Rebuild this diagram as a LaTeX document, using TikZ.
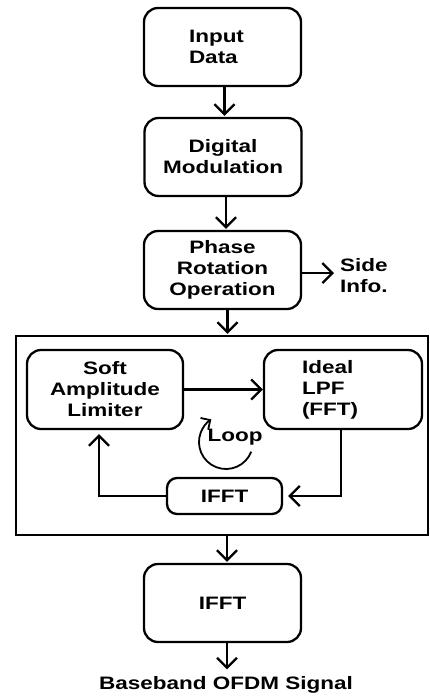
\documentclass[tikz,border=0pt]{standalone}
\usepackage{fontspec}
\setmainfont[FakeStretch=1.25]{Liberation Sans}
\usetikzlibrary{arrows.meta}
\begin{document}
\begin{tikzpicture}[x=1pt,y=1pt,
  every node/.style={font=\fontsize{18}{21}\selectfont\bfseries},
  box/.style={draw, line width=2.3pt, rounded corners=14pt, minimum width=157pt,
              minimum height=78pt, inner sep=0pt, align=center},
  smallbox/.style={draw, line width=2.3pt, rounded corners=10pt, minimum width=115pt,
              minimum height=36pt, inner sep=0pt},
  arr/.style={line width=2.3pt, -{Straight Barb[length=10pt,width=20pt]}},
  loopline/.style={line width=1.8pt, -{Straight Barb[length=7pt,width=14pt]}}]
\fill[white] (0,0) rectangle (429,-697);
\useasboundingbox (0,0) rectangle (429,-697);

% main chain
\node[box, inner xsep=45pt, text width=67pt, align=left] (input) at (222.5,-47) {Input\\Data\\[-6pt]};
\node[box] (digital) at (223,-157) {Digital\\Modulation};
\node[box] (phase) at (222.5,-270) {Phase\\Rotation\\Operation};
\node[anchor=west, align=left, inner xsep=6pt] (side) at (334,-276) {Side\\Info.};

% clipping/filtering loop
\node[draw, line width=2.3pt, minimum width=412pt, minimum height=199pt, inner sep=0pt] (frame) at (222,-435.5) {};
\node[box, minimum width=156pt, minimum height=79pt] (soft) at (105,-389.5) {Soft\\Amplitude\\Limiter};
\node[box, minimum width=158pt, minimum height=79pt, inner xsep=38pt, text width=82pt, align=left] (ideal) at (343,-389.5) {Ideal\\LPF\\(FFT)};
\node[smallbox] (sifft) at (224.5,-496) {IFFT};
\coordinate (loopc) at (226,-442);
\node (looptxt) at (235,-437) {Loop};

% output stage
\node[box] (ifft) at (222.5,-603) {IFFT};
\node[inner ysep=7pt] (out) at (226,-685) {Baseband OFDM Signal};

% connectors
\draw[arr, shorten >=1pt] ([xshift=2pt]input.south) -- ([xshift=2pt]input.south |- digital.north);
\draw[arr, shorten >=1pt] ([xshift=3pt]digital.south) -- ([xshift=3pt]digital.south |- phase.north);
\draw[arr] ([yshift=-3pt]phase.east) -- ([yshift=-3pt]phase.east -| side.west);
\draw[arr, shorten >=1pt] ([xshift=5pt]phase.south) -- ([xshift=5pt]phase.south |- frame.north);
\draw[arr] (soft.east) -- (ideal.west);
\draw[arr, shorten >=5pt] ([xshift=-2pt]ideal.south) |- (sifft.east);
\draw[arr, shorten >=4pt] (sifft.west) -| ([xshift=-6pt]soft.south);
\draw[loopline] (loopc) ++(-21:27) arc[start angle=-21, end angle=-237, radius=27];
\draw[arr, shorten >=1pt] ([xshift=4.5pt]ifft.north |- frame.south) -- ([xshift=4.5pt]ifft.north);
\draw[arr] ([xshift=4.5pt]ifft.south) -- ([xshift=4.5pt]ifft.south |- out.north);
\end{tikzpicture}
\end{document}
